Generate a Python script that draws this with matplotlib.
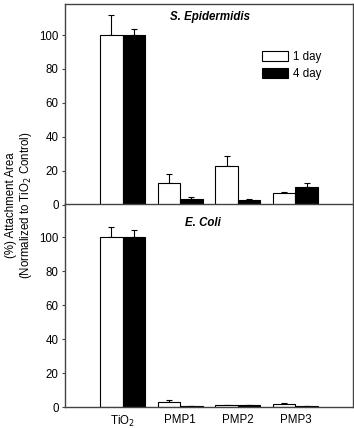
import numpy as np
import matplotlib

matplotlib.use("Agg")
import matplotlib.pyplot as plt
from matplotlib.patches import Patch

plt.rcParams["font.family"] = ["Liberation Sans", "DejaVu Sans"]
plt.rcParams["font.size"] = 8.3

groups = ["TiO$_2$", "PMP1", "PMP2", "PMP3"]
series = ["1 day", "4 day"]

# S. Epidermidis
epi_1day = [100, 12.7, 22.5, 6.9]
epi_1day_err = [12, 5.1, 5.9, 0.6]
epi_4day = [100, 3.3, 2.5, 10.2]
epi_4day_err = [3.5, 1.2, 0.5, 2.5]

# E. Coli
coli_1day = [100, 3.2, 1.2, 2.0]
coli_1day_err = [5.7, 1.2, 0.2, 0.4]
coli_4day = [100, 0.6, 1.0, 0.4]
coli_4day_err = [4.0, 0.1, 0.1, 0.1]

yticks = [0, 20, 40, 60, 80, 100]

W, H = 354, 428
fig = plt.figure(figsize=(W / 100, H / 100), dpi=100)

left = 65 / W
width = 288 / W
ax_top = fig.add_axes([left, 1 - 204.5 / H, width, 200.5 / H])
ax_bot = fig.add_axes([left, 1 - 407 / H, width, 202.5 / H])

x = np.arange(1, len(groups) + 1)
bw = 0.39
spine_c = "#444444"


def draw(ax, v1, e1, v4, e4, title, tx, ty, ymax):
    ax.bar(x - bw / 2, v1, bw, color="white", edgecolor="black", lw=0.8, zorder=2)
    ax.bar(x + bw / 2, v4, bw, color="black", edgecolor="black", lw=0.8, zorder=2)
    ax.errorbar(x - bw / 2, v1, yerr=[np.zeros(len(e1)), e1], fmt="none",
                ecolor="black", elinewidth=0.8, capsize=2.5, capthick=0.8, zorder=1)
    ax.errorbar(x + bw / 2, v4, yerr=[np.zeros(len(e4)), e4], fmt="none",
                ecolor="black", elinewidth=0.8, capsize=2.5, capthick=0.8, zorder=1)
    ax.set_xlim(0, 5)
    ax.set_ylim(0, ymax)
    ax.set_yticks(yticks)
    ax.tick_params(axis="y", direction="out", length=2.5, width=0.8,
                   color=spine_c, pad=2)
    for s in ax.spines.values():
        s.set_color(spine_c)
        s.set_linewidth(1.0)
    ax.text(tx, ty, title, transform=ax.transAxes, ha="center", va="center",
            fontweight="bold", fontstyle="italic")


draw(ax_top, epi_1day, epi_1day_err, epi_4day, epi_4day_err,
     "S. Epidermidis", 0.503, 0.935, 118.3)
draw(ax_bot, coli_1day, coli_1day_err, coli_4day, coli_4day_err,
     "E. Coli", 0.479, 0.909, 119.2)

ax_top.set_xticks([])
ax_bot.set_xticks(x)
ax_bot.set_xticklabels(groups)
ax_bot.tick_params(axis="x", length=0, pad=5)

handles = [Patch(facecolor="white", edgecolor="black", lw=0.8),
           Patch(facecolor="black", edgecolor="black", lw=0.8)]
ax_top.legend(handles, series, loc="upper left", bbox_to_anchor=(0.685, 0.765),
              frameon=False, borderpad=0, handlelength=2.25, handleheight=0.95,
              handletextpad=0.4, labelspacing=0.45, borderaxespad=0)

fig.text(19.5 / W, 1 - 205 / H,
         "(%) Attachment Area\n(Normalized to TiO$_2$ Control)",
         rotation=90, ha="center", va="center", linespacing=1.15)

fig.savefig("out.png", dpi=100)
